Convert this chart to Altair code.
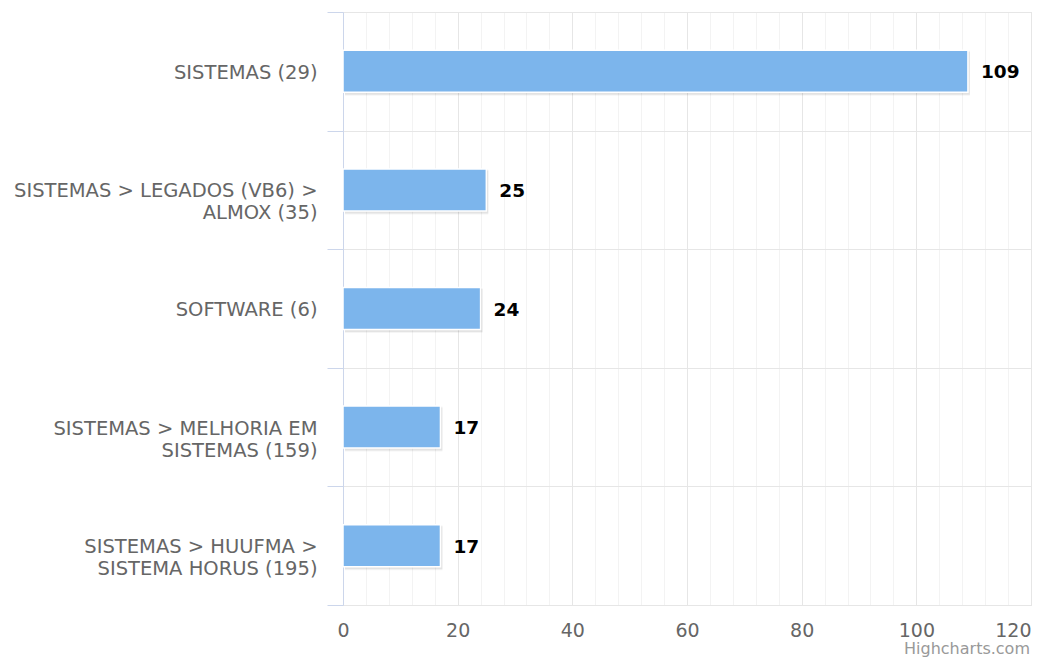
import altair as alt
import pandas as pd

categories = [
    "SISTEMAS (29)",
    "SISTEMAS > LEGADOS (VB6) >|ALMOX (35)",
    "SOFTWARE (6)",
    "SISTEMAS > MELHORIA EM|SISTEMAS (159)",
    "SISTEMAS > HUUFMA >|SISTEMA HORUS (195)",
]
values = [109, 25, 24, 17, 17]
x_ticks = list(range(0, 121, 4))

df = pd.DataFrame({"cat": categories, "val": values})

W, H = 688, 593
FONT = "DejaVu Sans"

y_enc = alt.Y(
    "cat:N",
    sort=None,
    scale=alt.Scale(paddingInner=0, paddingOuter=0),
    axis=alt.Axis(
        title=None,
        labelExpr="split(datum.label, '|')",
        labelFont=FONT,
        labelFontSize=19.5,
        labelColor="#666666",
        labelLineHeight=22,
        labelPadding=10,
        labelLimit=400,
        labelOffset=1,
        tickBand="extent",
        tickSize=16,
        tickColor="#ccd6eb",
        grid=True,
        gridColor="#e6e6e6",
        domainColor="#ccd6eb",
    ),
)

x_enc = alt.X(
    "val:Q",
    scale=alt.Scale(domain=[0, 120], nice=False),
    axis=alt.Axis(
        title=None,
        values=x_ticks,
        labelExpr="datum.value % 20 === 0 ? datum.label : ''",
        labelFont=FONT,
        labelFontSize=19,
        labelColor="#666666",
        labelPadding=16,
        labelOverlap=False,
        labelFlush=False,
        labelBound=False,
        labelAlign={"condition": {"test": "datum.value >= 120", "value": "right"}, "value": "center"},
        ticks=False,
        domain=False,
        grid=True,
        gridColor={"condition": {"test": "datum.value % 20 === 0", "value": "#e6e6e6"}, "value": "#f3f3f3"},
    ),
)

base = alt.Chart(df)

shadow = base.mark_bar(size=43, color="#000000", opacity=0.07, xOffset=2, yOffset=2).encode(x=x_enc, y=y_enc)
shadow2 = base.mark_bar(size=45, color="#000000", opacity=0.04, xOffset=2, yOffset=2).encode(x=x_enc, y=y_enc)

bars = base.mark_bar(size=42, color="#7cb5ec", stroke="#ffffff", strokeWidth=1.5).encode(x=x_enc, y=y_enc)

labels = base.mark_text(
    align="left", baseline="middle", dx=13, dy=1, font=FONT, fontSize=18.5, fontWeight="bold", color="#000000"
).encode(x=x_enc, y=y_enc, text="val:Q")

credit = alt.Chart(pd.DataFrame({"t": ["Highcharts.com"]})).mark_text(
    align="right", baseline="alphabetic", font=FONT, fontSize=16, color="#999999"
).encode(x=alt.value(W - 1), y=alt.value(H + 49), text="t:N")

chart = (
    alt.layer(shadow2, shadow, bars, labels, credit)
    .properties(
        width=W,
        height=H,
        autosize=alt.AutoSizeParams(type="none"),
        padding={"left": 343, "top": 12, "right": 6, "bottom": 54},
    )
    .configure_view(stroke=None)
    .configure_axisX(labelOverlap=False)
    .configure(background="#ffffff")
)

chart.save("out.html", embed_options={"renderer": "svg", "actions": False})
